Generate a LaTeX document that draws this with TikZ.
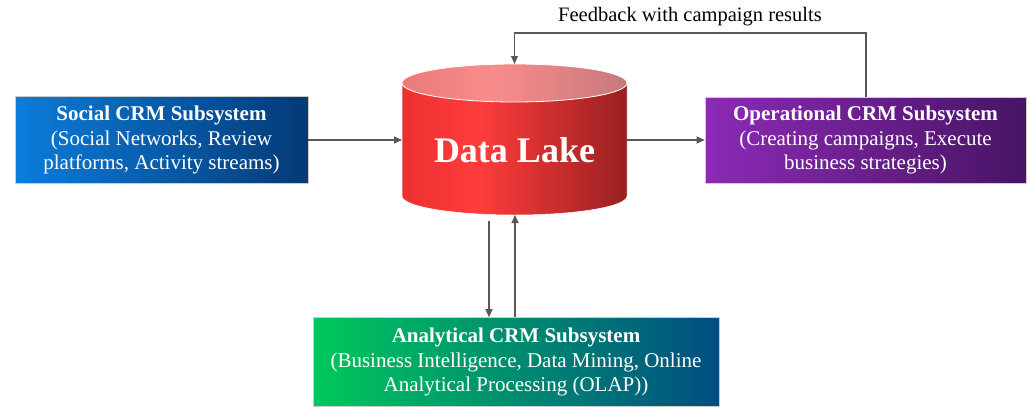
\documentclass[tikz,border=0pt]{standalone}
\usepackage{fontspec}
\setmainfont{Liberation Serif}
\usetikzlibrary{arrows.meta,calc}

% colours
\definecolor{socL}{RGB}{12,124,218}
\definecolor{socR}{RGB}{4,58,118}
\definecolor{opL}{RGB}{140,42,182}
\definecolor{opR}{RGB}{72,20,100}
\definecolor{anL}{RGB}{0,200,92}
\definecolor{anR}{RGB}{0,78,130}
\definecolor{lakeA}{RGB}{236,48,48}
\definecolor{lakeB}{RGB}{255,60,60}
\definecolor{lakeC}{RGB}{152,32,32}
\definecolor{capA}{RGB}{236,122,122}
\definecolor{capB}{RGB}{248,140,140}
\definecolor{capC}{RGB}{200,120,124}
\definecolor{wire}{RGB}{88,88,88}

% horizontal shadings for the data lake cylinder
\pgfdeclarehorizontalshading{lakebody}{100bp}{color(0bp)=(lakeA); color(25bp)=(lakeA); color(42bp)=(lakeB); color(75bp)=(lakeC); color(100bp)=(lakeC)}
\pgfdeclarehorizontalshading{lakecap}{100bp}{color(0bp)=(capA); color(25bp)=(capA); color(45bp)=(capB); color(75bp)=(capC); color(100bp)=(capC)}

\tikzset{
  subsys/.style={draw=white!80!black, line width=0.6pt, text=white, align=center,
    inner sep=0pt, font=\fontsize{21}{24.5}\selectfont},
  link/.style={draw=wire, line width=1.2pt, -{Triangle[length=8pt,width=7pt]}},
}

\begin{document}
\begin{tikzpicture}[x=1pt,y=-1pt]
\useasboundingbox (0,0) rectangle (1027,407);

% subsystem boxes
\node[subsys, minimum width=293pt, minimum height=87pt, left color=socL, right color=socR]
  (social) at (161.5,140) {\textbf{Social CRM Subsystem}\\(Social Networks, Review\\platforms, Activity streams)};
\node[subsys, minimum width=321pt, minimum height=86pt, left color=opL, right color=opR]
  (oper) at (865.5,140) {\textbf{Operational CRM Subsystem}\\(Creating campaigns, Execute\\business strategies)};
\node[subsys, minimum width=406pt, minimum height=89pt, left color=anL, right color=anR]
  (anal) at (516,362) {\textbf{Analytical CRM Subsystem}\\(Business Intelligence, Data Mining, Online\\Analytical Processing (OLAP))};

% data lake cylinder
\path[shading=lakebody, draw=white, line width=0.5pt]
  (402,83) -- (402,196) arc[start angle=180, end angle=360, x radius=112.5pt, y radius=19pt]
  -- (627,83) -- cycle;
\path[shading=lakecap, draw=white, line width=0.8pt]
  (514.5,83) ellipse[x radius=112.5pt, y radius=19pt];
\node[text=white, font=\fontsize{36}{40}\selectfont\bfseries] (lake) at (514.5,150) {Data Lake};

\coordinate (lakeL) at (402,140);
\coordinate (lakeR) at (627,140);
\coordinate (lakeT) at (514.5,64);
\coordinate (lakeB) at (515,215);
\coordinate (lakeOut) at (489,221);
\coordinate (fbTurn) at (866,33);

% connectors
\draw[link] (social.east |- lakeL) -- (lakeL);
\draw[link] (lakeR) -- (oper.west |- lakeR);
\draw[link] (lakeOut) -- (lakeOut |- anal.north);
\draw[link] (lakeB |- anal.north) -- (lakeB);
\draw[link] (oper.north -| fbTurn) -- (fbTurn) -- (fbTurn -| lakeT) -- (lakeT);
\node[font=\fontsize{20.5}{22}\selectfont, text=black] (fblabel) at (690,17) {Feedback with campaign results};
\end{tikzpicture}
\end{document}
